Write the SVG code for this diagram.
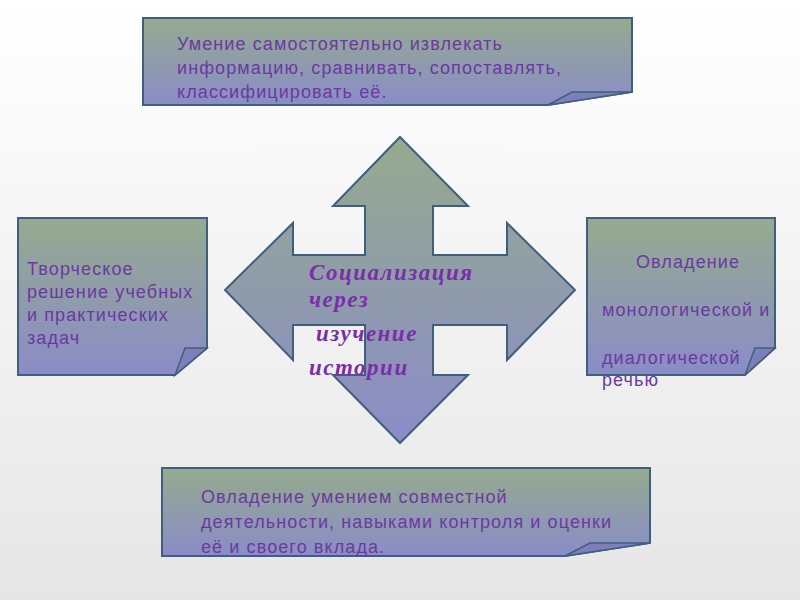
<svg xmlns="http://www.w3.org/2000/svg" width="800" height="600" viewBox="0 0 800 600">
<defs>
<linearGradient id="bg" x1="0" y1="0" x2="0" y2="1"><stop offset="0" stop-color="#ffffff"/><stop offset="1" stop-color="#e6e6e6"/></linearGradient>
<linearGradient id="g" x1="0" y1="0" x2="0" y2="1"><stop offset="0" stop-color="#95ab8e"/><stop offset="1" stop-color="#8a8cc8"/></linearGradient>
<style>
.s{fill:url(#g);stroke:#3f5f7f;stroke-width:2}
.f{fill:#7d80b8;stroke:#3f5f7f;stroke-width:1.5}
.t{font-family:"Liberation Sans",Arial,sans-serif;font-size:18px;letter-spacing:1.1px;fill:#6a3aa0}
.c{font-family:"Liberation Serif",serif;font-style:italic;font-weight:bold;font-size:23px;letter-spacing:1.5px;fill:#7a2fa8}
</style>
</defs>
<rect width="800" height="600" fill="url(#bg)"/>
<g id="arrow">
<path class="s" d="M400,137 L468,206 L433,206 L433,255 L507,255 L507,223 L575,290 L507,360 L507,325 L433,325 L433,375 L468,375 L400,443 L333,375 L365,375 L365,325 L293,325 L293,360 L225,290 L293,223 L293,255 L365,255 L365,206 L333,206 Z"/>
<text class="c" x="309" y="280">Социализация</text>
<text class="c" x="309" y="307">через</text>
<text class="c" x="316" y="341">изучение</text>
<text class="c" x="309" y="375">истории</text>
</g>
<g id="top">
<path class="s" d="M143,18 L632,18 L632,92 L548,105 L143,105 Z"/>
<path class="f" d="M548,105 L572,92 L632,92 Z"/>
<text class="t" x="177" y="50">Умение самостоятельно извлекать</text>
<text class="t" x="177" y="74">информацию, сравнивать, сопоставлять,</text>
<text class="t" x="177" y="98">классифицировать её.</text>
</g>
<g id="left">
<path class="s" d="M18,218 L207,218 L207,348 L175,375 L18,375 Z"/>
<path class="f" d="M175,375 L185,348 L207,348 Z"/>
<text class="t" x="27" y="275">Творческое</text>
<text class="t" x="27" y="298">решение учебных</text>
<text class="t" x="27" y="321">и практических</text>
<text class="t" x="27" y="344">задач</text>
</g>
<g id="right">
<path class="s" d="M587,218 L775,218 L775,348 L745,375 L587,375 Z"/>
<path class="f" d="M745,375 L755,348 L775,348 Z"/>
<text class="t" x="636" y="268">Овладение</text>
<text class="t" x="602" y="316">монологической  и</text>
<text class="t" x="602" y="364">диалогической</text>
<text class="t" x="602" y="386">речью</text>
</g>
<g id="bottom">
<path class="s" d="M162,468 L650,468 L650,543 L565,556 L162,556 Z"/>
<path class="f" d="M565,556 L590,543 L650,543 Z"/>
<text class="t" x="201" y="503">Овладение  умением совместной</text>
<text class="t" x="201" y="528">деятельности, навыками контроля и оценки</text>
<text class="t" x="201" y="553">её и своего вклада.</text>
</g>
</svg>
